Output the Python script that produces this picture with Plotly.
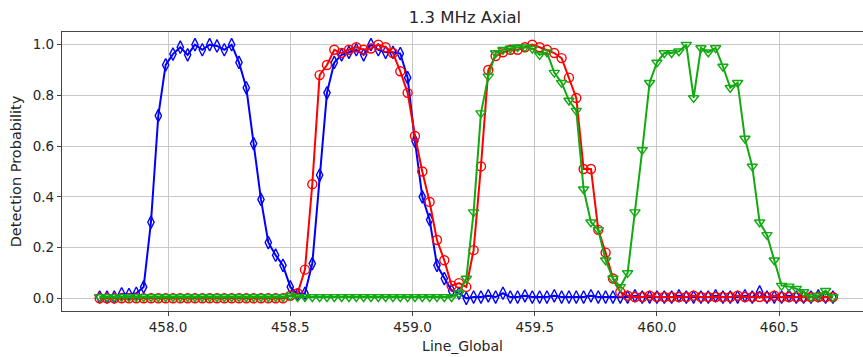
import numpy as np
import plotly.graph_objects as go

# Scan positions (Line_Global), 101 points with 0.03 step
line_global = np.round(457.72 + 0.03 * np.arange(101), 3)

blue_vals = [
    0.005, 0.005, 0.005, 0.018, 0.015, 0.02, 0.045,
    0.30, 0.72, 0.92, 0.963, 0.99, 0.96, 1.0, 0.98, 1.0, 0.995, 0.98, 1.0, 0.93, 0.83,
    0.61, 0.39, 0.22, 0.17, 0.13, 0.045, 0.015, 0.02, 0.137,
    0.486, 0.81, 0.93, 0.96, 0.97, 0.98, 0.96, 1.0, 0.98, 0.97, 0.97,
    0.965, 0.87, 0.62, 0.40, 0.31, 0.13, 0.078, 0.03, 0.02,
    0.0, 0.005, 0.005, 0.01, 0.005, 0.02, 0.005, 0.005, 0.01, 0.005,
    0.005, 0.005, 0.01, 0.005, 0.005, 0.005, 0.005, 0.01, 0.005, 0.005,
    0.005, 0.005, 0.005, 0.01, 0.005, 0.005, 0.005, 0.005, 0.005, 0.01,
    0.005, 0.005, 0.005, 0.005, 0.01, 0.005, 0.005, 0.005, 0.01, 0.005,
    0.025, 0.005, 0.005, 0.005, 0.01, 0.005, 0.005, 0.005, 0.01, 0.005,
    0.005,
]

red_vals = [
    0.0, 0.0, 0.0, 0.0, 0.0, 0.0, 0.0, 0.0, 0.0, 0.0,
    0.0, 0.0, 0.0, 0.0, 0.0, 0.0, 0.0, 0.0, 0.0, 0.0,
    0.0, 0.0, 0.0, 0.0, 0.0, 0.0,
    0.01, 0.02, 0.113, 0.45, 0.88, 0.92, 0.98, 0.967, 0.98, 0.99, 0.98, 0.985, 1.0, 0.99,
    0.967, 0.895, 0.81, 0.64, 0.50, 0.38, 0.23, 0.15, 0.05, 0.06,
    0.045, 0.19, 0.52, 0.90, 0.955, 0.97, 0.98, 0.98, 0.99, 1.0,
    0.99, 0.98, 0.967, 0.947, 0.87, 0.79, 0.51, 0.51, 0.27, 0.18,
    0.078, 0.025, 0.01, 0.005, 0.005, 0.01, 0.005, 0.005, 0.005, 0.005,
    0.005, 0.01, 0.005, 0.005, 0.005, 0.005, 0.005, 0.01, 0.005, 0.005,
    0.005, 0.005, 0.01, 0.005, 0.005, 0.005, 0.005, 0.005, 0.005, 0.005,
    0.005,
]

green_vals = [
    0.005, 0.005, 0.005, 0.005, 0.005, 0.005, 0.005, 0.005, 0.005, 0.005,
    0.005, 0.005, 0.005, 0.005, 0.005, 0.005, 0.005, 0.005, 0.005, 0.005,
    0.005, 0.005, 0.005, 0.005, 0.005, 0.005, 0.01, 0.005, 0.005, 0.005,
    0.005, 0.005, 0.005, 0.005, 0.005, 0.005, 0.005, 0.005, 0.005, 0.005,
    0.005, 0.005, 0.005, 0.005, 0.005, 0.005, 0.005, 0.005, 0.005, 0.02,
    0.078, 0.34, 0.73, 0.875, 0.967, 0.98, 0.985, 0.99, 0.99, 0.985,
    0.96, 0.97, 0.89, 0.85, 0.78, 0.74, 0.43, 0.30, 0.27, 0.15,
    0.078, 0.045, 0.10, 0.34, 0.585, 0.85, 0.93, 0.967, 0.967, 0.974,
    1.0, 0.79, 0.987, 0.97, 0.987, 0.914, 0.83, 0.85, 0.63, 0.52,
    0.30, 0.25, 0.15, 0.05, 0.047, 0.038, 0.025, 0.005, 0.01, 0.03,
    0.005,
]

y_ticks = [0.0, 0.2, 0.4, 0.6, 0.8, 1.0]
x_ticks = [458.0, 458.5, 459.0, 459.5, 460.0, 460.5]

FONT = "DejaVu Sans"
TXT = "#262626"

fig = go.Figure()
series = [
    (blue_vals, "#0000ff", "diamond-tall-open"),
    (red_vals, "#ff0000", "circle-open"),
    (green_vals, "#11aa11", "triangle-down-open"),
]
for vals, col, sym in series:
    fig.add_trace(go.Scatter(
        x=line_global, y=vals, mode="lines+markers",
        line=dict(color=col, width=2),
        marker=dict(symbol=sym, size=9, color=col, line=dict(color=col, width=1.4)),
        showlegend=False,
    ))

fig.update_layout(
    width=863, height=357,
    margin=dict(l=62, r=0, t=32, b=46),
    paper_bgcolor="white", plot_bgcolor="white",
    font=dict(family=FONT, size=13.5, color=TXT),
    title=dict(text="1.3 MHz Axial", x=465 / 863, xanchor="center",
               y=1 - 17 / 357, yanchor="middle",
               font=dict(family=FONT, size=16.5, color=TXT)),
)
fig.update_xaxes(
    range=[457.566, 460.843],
    tickvals=x_ticks, ticktext=[f"{v:.1f}" for v in x_ticks],
    tickfont=dict(family=FONT, size=13.5, color=TXT),
    showgrid=True, gridcolor="#c8c8c8", gridwidth=1,
    showline=True, linecolor="#444444", linewidth=1.2, mirror=True,
    ticks="outside", ticklen=4, tickcolor="#444444",
    zeroline=False,
    title=dict(text="Line_Global", font=dict(family=FONT, size=14, color=TXT), standoff=6),
)
fig.update_yaxes(
    range=[-0.05, 1.05],
    tickvals=y_ticks, ticktext=[f"{v:.1f}" for v in y_ticks],
    tickfont=dict(family=FONT, size=13.5, color=TXT),
    showgrid=True, gridcolor="#c8c8c8", gridwidth=1,
    showline=True, linecolor="#444444", linewidth=1.2,
    ticks="outside", ticklen=4, tickcolor="#444444",
    zeroline=False,
    title=dict(text="Detection Probability", font=dict(family=FONT, size=14.5, color=TXT), standoff=7),
)

fig.write_html("out.html")
